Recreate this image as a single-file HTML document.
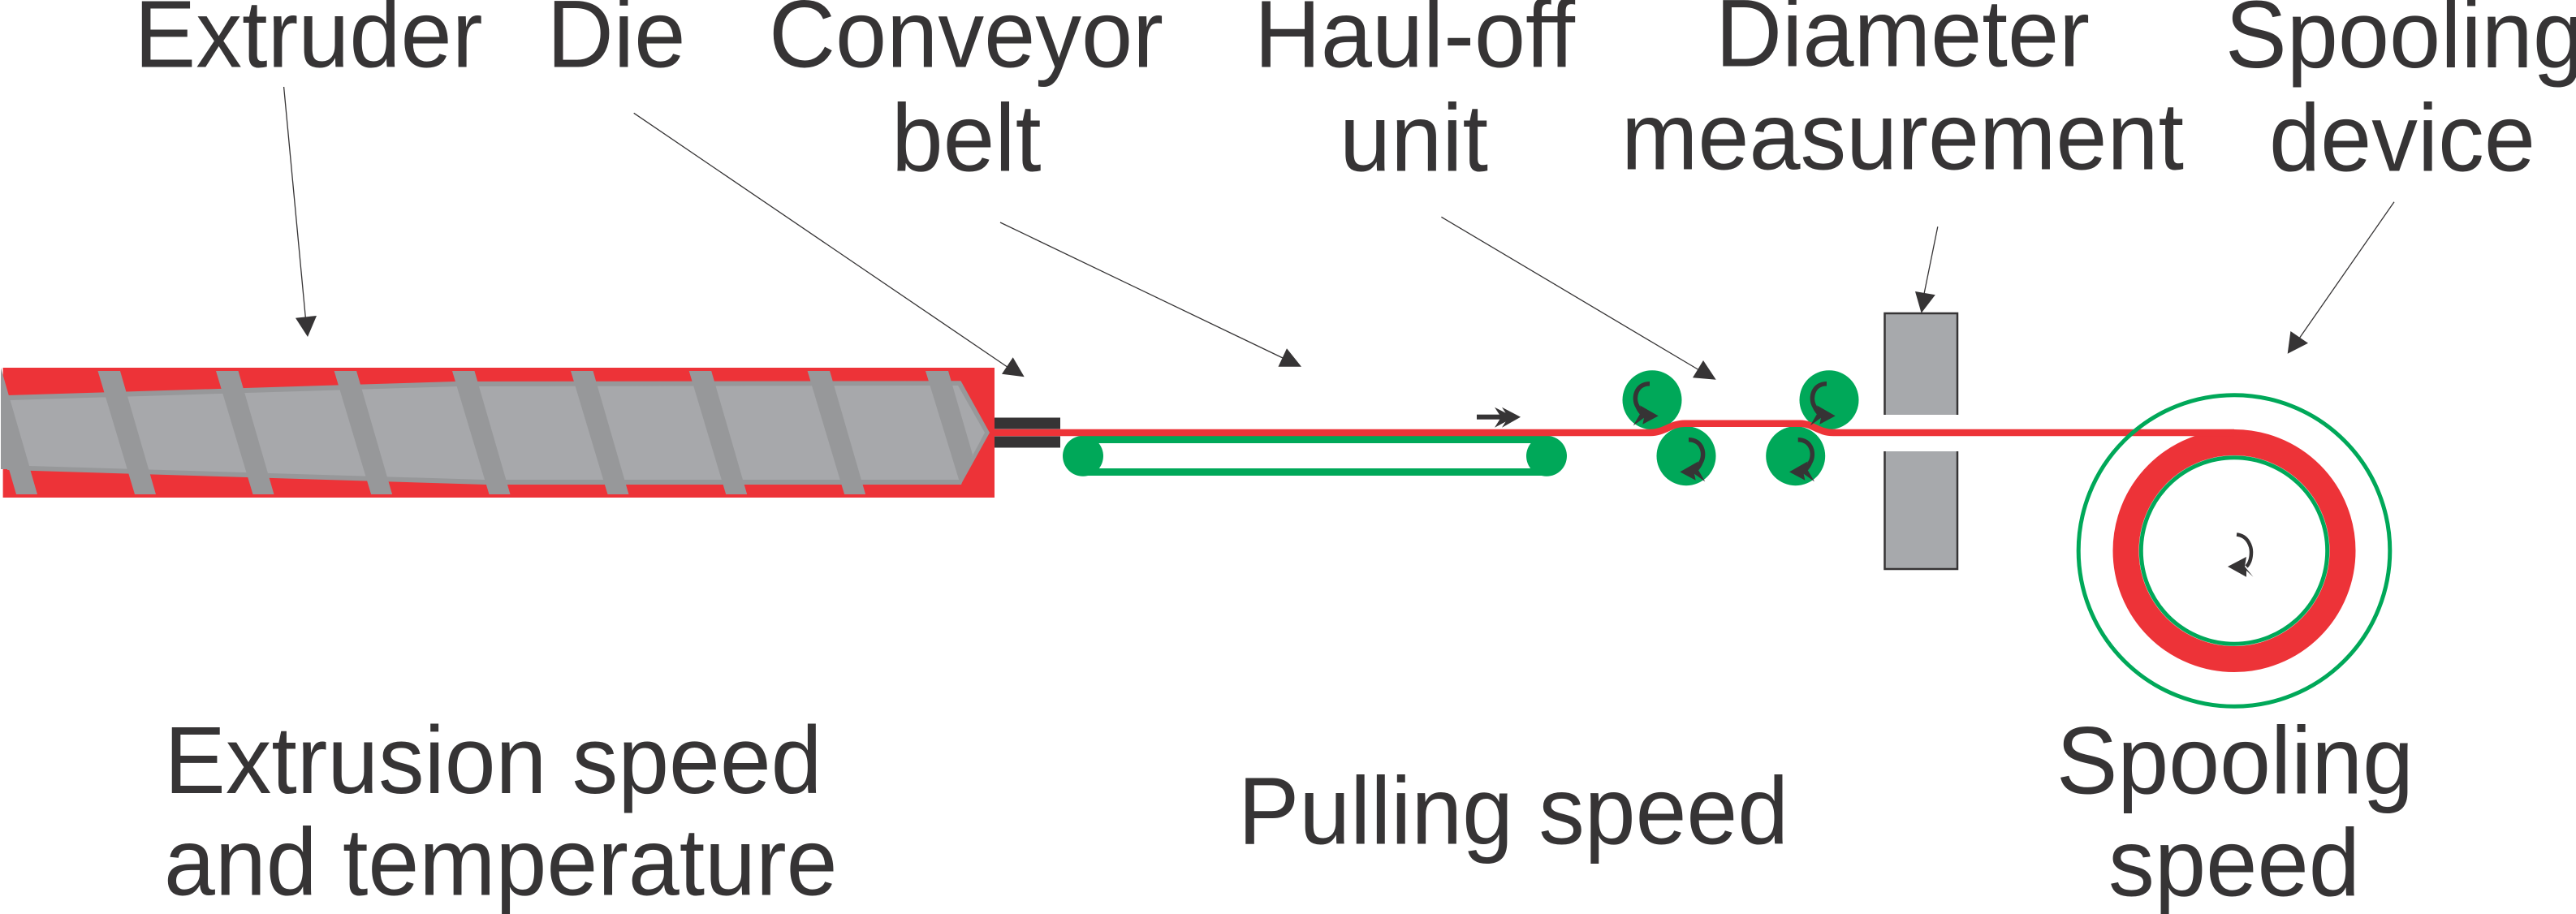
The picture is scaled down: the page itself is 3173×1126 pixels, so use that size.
<!DOCTYPE html>
<html><head><meta charset="utf-8"><style>
html,body{margin:0;padding:0;background:#fff}
svg{display:block}
text{font-family:"Liberation Sans",sans-serif;font-size:118px;fill:#363435}
</style></head><body>
<svg xmlns="http://www.w3.org/2000/svg" width="3173" height="1126" viewBox="0 0 3173 1126">
<rect width="3173" height="1126" fill="#fff"/>
<!-- barrel -->
<rect x="3.6" y="453" width="1221.4" height="160" fill="#ed3338"/>
<polygon points="9,487 560,470 1183.5,469.3 1219,533 1183.5,597 598,597 9,579" fill="#97989a"/>
<polygon points="12.5,493 563,476 1180,475 1213,533 1182,591 597,591 36,574" fill="#a7a8ab"/>
<g fill="#97989a">
<polygon points="1,453 46,609 20,609 11,578 1,578"/>
<polygon points="120.5,457 148,457 192,609 166,609"/>
<polygon points="266,457 293.5,457 337.500,609 311.500,609"/>
<polygon points="411.600,457 439.100,457 483.100,609 457.100,609"/>
<polygon points="557,457 584.500,457 628.500,609 602.500,609"/>
<polygon points="703,457 730.500,457 774.500,609 748.500,609"/>
<polygon points="848.700,457 876.200,457 920.200,609 894.200,609"/>
<polygon points="994.600,457 1022.100,457 1066.100,609 1040.100,609"/>
<polygon points="1140,457 1168,457 1198,560 1184,597 1183,597"/>
</g>
<!-- die -->
<rect x="1225" y="514.500" width="81" height="14" fill="#363435"/>
<rect x="1225" y="537.500" width="81" height="14" fill="#363435"/>
<!-- conveyor -->
<rect x="1334" y="537" width="571" height="9" fill="#00a859"/>
<rect x="1334" y="577" width="571" height="9" fill="#00a859"/>
<circle cx="1334" cy="561.800" r="25" fill="#00a859"/>
<circle cx="1905" cy="561.800" r="25" fill="#00a859"/>
<!-- haul-off rollers -->
<g fill="#00a859">
<circle cx="2035" cy="492.700" r="36.500"/>
<circle cx="2253" cy="492.700" r="36.500"/>
<circle cx="2077" cy="561.700" r="36.500"/>
<circle cx="2211.700" cy="561.700" r="36.500"/>
</g>
<!-- grey blocks -->
<rect x="2321.500" y="386" width="89.500" height="125" fill="#a7a9ac"/>
<path d="M2321.500 511V386H2411V511" fill="none" stroke="#363435" stroke-width="2.500"/>
<rect x="2321.500" y="556" width="89.500" height="145" fill="#a7a9ac"/>
<path d="M2321.500 556V701H2411V556" fill="none" stroke="#363435" stroke-width="2.500"/>
<!-- spool -->
<circle cx="2752" cy="678.500" r="133.500" fill="none" stroke="#ed3338" stroke-width="32"/>
<path d="M1225 533H2033C2050 533 2058 521.700 2075 521.700H2218C2232 521.700 2240 533 2258 533H2752" fill="none" stroke="#ed3338" stroke-width="8.500"/>
<circle cx="2752" cy="678.500" r="114.700" fill="#fff" stroke="#00a859" stroke-width="5"/>
<circle cx="2752" cy="678.500" r="191.800" fill="none" stroke="#00a859" stroke-width="5"/>
<!-- line arrow -->
<rect x="1819" y="510.700" width="32" height="6" fill="#363435"/>
<polygon points="1841,501.700 1865,514 1841,526.700 1849,514" fill="#363435"/>
<polygon points="1850,501.700 1873,513.700 1850,526.700 1858,514" fill="#363435"/>
<!-- roller arrows -->
<g fill="#363435">
<g transform="translate(2035 492.700)">
<path d="M-3 -20C-20 -20 -24 -2 -18 8C-16 13 -14 15 -12 17" fill="none" stroke="#363435" stroke-width="5.500"/>
<polygon points="-15,6.700 7.700,19.700 -11.700,30 -10,22 -23.300,31.700 -13,14"/>
</g>
<g transform="translate(2253 492.700)">
<path d="M-3 -20C-20 -20 -24 -2 -18 8C-16 13 -14 15 -12 17" fill="none" stroke="#363435" stroke-width="5.500"/>
<polygon points="-15,6.700 7.700,19.700 -11.700,30 -10,22 -23.300,31.700 -13,14"/>
</g>
<g transform="translate(2077 561.700) scale(-1 1)">
<path d="M-3 -20C-20 -20 -24 -2 -18 8C-16 13 -14 15 -12 17" fill="none" stroke="#363435" stroke-width="5.500"/>
<polygon points="-15,6.700 7.700,19.700 -11.700,30 -10,22 -23.300,31.700 -13,14"/>
</g>
<g transform="translate(2211.700 561.700) scale(-1 1)">
<path d="M-3 -20C-20 -20 -24 -2 -18 8C-16 13 -14 15 -12 17" fill="none" stroke="#363435" stroke-width="5.500"/>
<polygon points="-15,6.700 7.700,19.700 -11.700,30 -10,22 -23.300,31.700 -13,14"/>
</g>
<path d="M2755 658.500C2770 660 2773 675 2773 680C2773 688 2771 694 2767 698" fill="none" stroke="#363435" stroke-width="4.500"/>
<polygon points="2744,698 2767,686 2765,698 2775.500,710.700 2767,703 2767,710.700"/>
</g>
<!-- leaders -->
<g stroke="#363435" stroke-width="1.300" fill="none">
<line x1="349.600" y1="107" x2="376.400" y2="392"/>
<line x1="780.700" y1="139.300" x2="1240.700" y2="452"/>
<line x1="1232" y1="274" x2="1580" y2="441"/>
<line x1="1775.400" y1="267.300" x2="2093" y2="456"/>
<line x1="2386.800" y1="279.300" x2="2370" y2="362"/>
<line x1="2949" y1="248.700" x2="2832" y2="417"/>
</g>
<g fill="#363435">
<polygon points="364,391.700 390,389 379,415"/>
<polygon points="1247.700,440.300 1261.700,464.300 1234,460.700"/>
<polygon points="1585,429.300 1603,451.700 1574.500,451.700"/>
<polygon points="2098,444 2113.700,467.700 2085,465.300"/>
<polygon points="2359,359 2383.800,363.300 2366.600,385.700"/>
<polygon points="2821.400,408 2843,422.700 2817.700,435.700"/>
</g>
<!-- labels -->
<text x="165.500" y="82.500" textLength="429" lengthAdjust="spacingAndGlyphs">Extruder</text>
<text x="673.500" y="82.500" textLength="171" lengthAdjust="spacingAndGlyphs">Die</text>
<text x="947" y="82.500" textLength="486" lengthAdjust="spacingAndGlyphs">Conveyor</text>
<text x="1098" y="210.500" textLength="184.500" lengthAdjust="spacingAndGlyphs">belt</text>
<text x="1545" y="82.500" textLength="395" lengthAdjust="spacingAndGlyphs">Haul-off</text>
<text x="1650" y="210.500" textLength="183" lengthAdjust="spacingAndGlyphs">unit</text>
<text x="2113" y="81.500" textLength="461" lengthAdjust="spacingAndGlyphs">Diameter</text>
<text x="1997" y="208.500" textLength="693" lengthAdjust="spacingAndGlyphs">measurement</text>
<text x="2741" y="83" textLength="442" lengthAdjust="spacingAndGlyphs">Spooling</text>
<text x="2795" y="210.500" textLength="328" lengthAdjust="spacingAndGlyphs">device</text>
<text x="202.500" y="977" textLength="810" lengthAdjust="spacingAndGlyphs">Extrusion speed</text>
<text x="202" y="1102.500" textLength="829.500" lengthAdjust="spacingAndGlyphs">and temperature</text>
<text x="1525" y="1039.500" textLength="678" lengthAdjust="spacingAndGlyphs">Pulling speed</text>
<text x="2533" y="977.500" textLength="440" lengthAdjust="spacingAndGlyphs">Spooling</text>
<text x="2597" y="1103.500" textLength="310" lengthAdjust="spacingAndGlyphs">speed</text>
</svg>
</body></html>
